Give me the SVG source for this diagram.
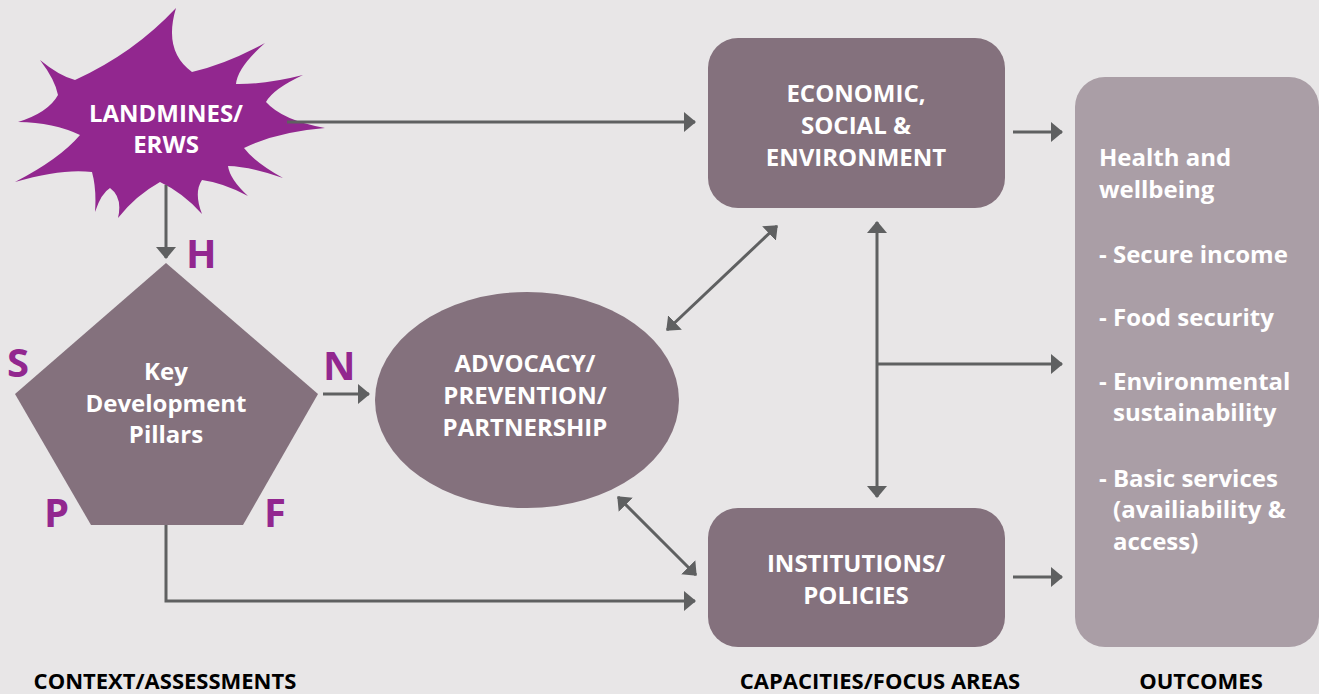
<svg xmlns="http://www.w3.org/2000/svg" width="1319" height="694" viewBox="0 0 1319 694">
<style>
  .bg { fill: #e8e6e7; }
  .node { fill: #84717d; }
  .panel { fill: #aa9ea6; }
  .burst { fill: #92278f; }
  .t { font-family: "Open Sans", "Liberation Sans", sans-serif; font-weight: bold; font-size: 24px; fill: #ffffff; }
  .c { text-anchor: middle; }
  .letter { font-family: "Open Sans", "Liberation Sans", sans-serif; font-weight: bold; font-size: 40px; fill: #92278f; }
  .label { font-family: "Open Sans", "Liberation Sans", sans-serif; font-weight: bold; font-size: 22px; fill: #000000; text-anchor: middle; }
  .conn { fill: none; stroke: #5f6061; stroke-width: 3; }
</style>
<defs>
  <marker id="ah" viewBox="0 0 12 20" refX="11" refY="10" markerWidth="12" markerHeight="20" markerUnits="userSpaceOnUse" orient="auto-start-reverse">
    <path d="M0,0 L12,10 L0,20 Z" fill="#5f6061"/>
  </marker>
</defs>
<rect class="bg" x="0" y="0" width="1319" height="694"/>

<g id="landmines">
  <path class="burst" d="M75,80 Q133.8,53.2 176,8 Q163,51.2 192,72 Q226.4,64.2 265,43 Q237.4,67.2 236,84 Q265.5,84.5 303,75 Q273,89 266,102 Q282.3,120.3 325,128 Q276.8,131.8 244,148 Q254.5,162.1 283,178 Q250.5,166.6 228,166 Q229.8,179.3 248,196 Q223.3,182.8 202,180 Q193.6,192.3 202,214 Q183.1,192.8 160,182 Q135.3,195.8 118,218 Q122.8,197.3 110,188 Q101.2,193.2 95,212 Q96.7,189.2 92,172 Q62.7,168.1 15,182 Q59.7,158.9 80,135 Q53.9,122.5 18,122 Q48.4,112.5 58,95 Q55.1,79.8 40,60 Q59.3,76 75,80 Z"/>
  <text class="t c" x="166" y="122">LANDMINES/</text>
  <text class="t c" x="166" y="153">ERWS</text>
</g>

<g id="pillars">
  <polygon class="node" points="166,263 318,394 243,525 91,525 15,394"/>
  <text class="t c" x="166" y="380">Key</text>
  <text class="t c" x="166" y="412">Development</text>
  <text class="t c" x="166" y="443">Pillars</text>
  <text class="letter" x="186" y="268">H</text>
  <text class="letter" x="7" y="377">S</text>
  <text class="letter" x="323" y="380">N</text>
  <text class="letter" x="44" y="527">P</text>
  <text class="letter" x="264" y="527">F</text>
</g>

<g id="advocacy">
  <ellipse class="node" cx="527" cy="400" rx="152" ry="108"/>
  <text class="t c" x="525" y="372">ADVOCACY/</text>
  <text class="t c" x="525" y="404">PREVENTION/</text>
  <text class="t c" x="525" y="436">PARTNERSHIP</text>
</g>

<g id="economic">
  <rect class="node" x="708" y="38" width="297" height="170" rx="30" ry="30"/>
  <text class="t c" x="856" y="102">ECONOMIC,</text>
  <text class="t c" x="856" y="134">SOCIAL &amp;</text>
  <text class="t c" x="856" y="166">ENVIRONMENT</text>
</g>

<g id="institutions">
  <rect class="node" x="708" y="508" width="297" height="139" rx="30" ry="30"/>
  <text class="t c" x="856" y="572">INSTITUTIONS/</text>
  <text class="t c" x="856" y="604">POLICIES</text>
</g>

<g id="outcomes">
  <rect class="panel" x="1075" y="77" width="244" height="570" rx="30" ry="30"/>
  <text class="t" x="1099" y="166">Health and</text>
  <text class="t" x="1099" y="198">wellbeing</text>
  <text class="t" x="1099" y="263">- Secure income</text>
  <text class="t" x="1099" y="326">- Food security</text>
  <text class="t" x="1099" y="390">- Environmental</text>
  <text class="t" x="1113" y="421">sustainability</text>
  <text class="t" x="1099" y="487">- Basic services</text>
  <text class="t" x="1113" y="518">(availiability &amp;</text>
  <text class="t" x="1113" y="550">access)</text>
</g>

<g id="connectors">
  <line class="conn" x1="287" y1="122" x2="695" y2="122" marker-end="url(#ah)"/>
  <line class="conn" x1="166" y1="185" x2="166" y2="258" marker-end="url(#ah)"/>
  <line class="conn" x1="323" y1="394" x2="369" y2="394" marker-end="url(#ah)"/>
  <path class="conn" d="M166,525 V601 H695" marker-end="url(#ah)"/>
  <line class="conn" x1="667" y1="330" x2="777" y2="226" marker-start="url(#ah)" marker-end="url(#ah)"/>
  <line class="conn" x1="877" y1="222" x2="877" y2="497" marker-start="url(#ah)" marker-end="url(#ah)"/>
  <line class="conn" x1="877" y1="364" x2="1062" y2="364" marker-end="url(#ah)"/>
  <line class="conn" x1="618" y1="497" x2="696" y2="575" marker-start="url(#ah)" marker-end="url(#ah)"/>
  <line class="conn" x1="1013" y1="132" x2="1062" y2="132" marker-end="url(#ah)"/>
  <line class="conn" x1="1013" y1="577" x2="1062" y2="577" marker-end="url(#ah)"/>
</g>

<g id="labels">
  <text class="label" x="165" y="689">CONTEXT/ASSESSMENTS</text>
  <text class="label" x="880" y="689">CAPACITIES/FOCUS AREAS</text>
  <text class="label" x="1201" y="689">OUTCOMES</text>
</g>
</svg>
